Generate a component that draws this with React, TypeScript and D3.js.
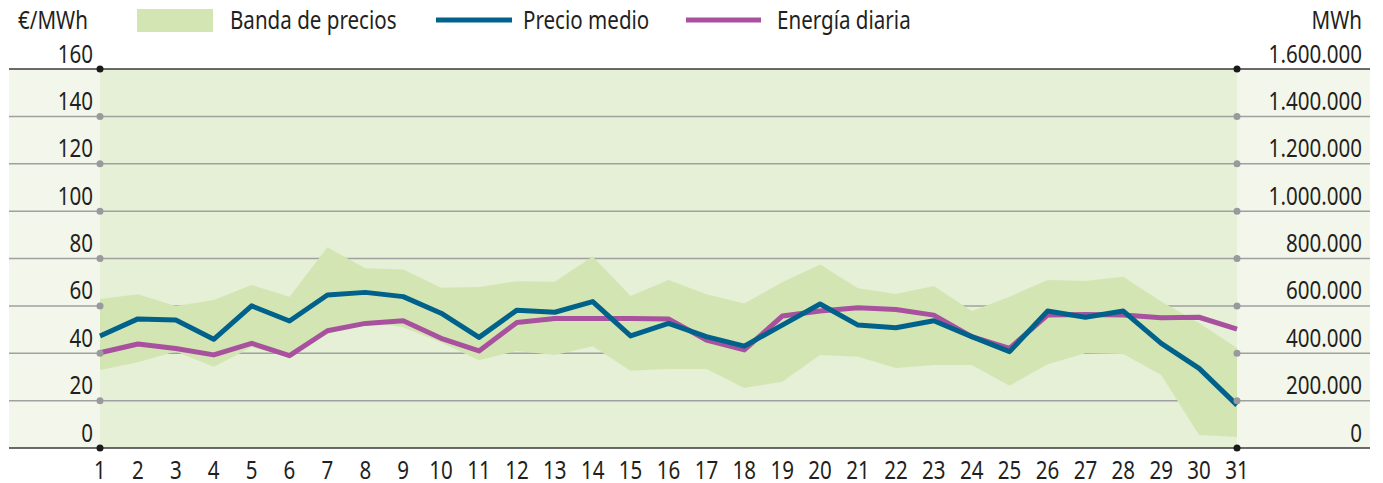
import * as d3 from 'd3';

const width = 1383;
const height = 483;
const margin = { top: 69, right: 146, bottom: 35, left: 100 };

const days = [1, 2, 3, 4, 5, 6, 7, 8, 9, 10, 11, 12, 13, 14, 15, 16, 17, 18, 19, 20, 21, 22, 23, 24, 25, 26, 27, 28, 29, 30, 31];

// €/MWh
const precioMedio = [47.3, 54.5, 54, 45.9, 60, 53.6, 64.6, 65.7, 63.9, 56.9, 46.7, 58.2, 57.3, 61.8, 47.3, 52.6, 47, 43, 51.9, 60.8, 51.9, 50.8, 53.7, 47, 40.7, 57.8, 55.2, 57.8, 44.2, 33.6, 18.1];
const bandaMax = [62.9, 64.9, 60, 62.5, 68.8, 63.9, 84.7, 75.9, 75.4, 67.7, 68, 70.4, 70.2, 80.8, 64.2, 70.9, 64.9, 61, 70, 77.5, 67.4, 65, 68.4, 57.8, 63.9, 70.9, 70.5, 72.3, 61.8, 52.8, 42.2];
const bandaMin = [32.9, 36.2, 40.7, 34.3, 42.5, 38.5, 48, 53.5, 51, 44.5, 37, 41, 39.3, 43, 32.6, 33.3, 33.3, 25.3, 28, 39.3, 38.5, 33.8, 35, 35, 26.3, 35.4, 40, 39.7, 30.8, 5.5, 4.6];

// MWh
const energiaDiaria = [402000, 439000, 420000, 393000, 442000, 390000, 495000, 526000, 537000, 463000, 410000, 530000, 547000, 547000, 547000, 545000, 456000, 414000, 557000, 578000, 592000, 585000, 561000, 470000, 421000, 561000, 564000, 561000, 550000, 552000, 502000];

const priceTicks = [0, 20, 40, 60, 80, 100, 120, 140, 160];
const energyTicks = [0, 200000, 400000, 600000, 800000, 1000000, 1200000, 1400000, 1600000];

const font = "'Noto Sans', sans-serif";
const textColor = '#231f20';
const blue = '#00628b';
const magenta = '#a8519f';
const bandColor = '#d4e5b4';

// condensed text: the original uses a narrow face
function Label({ x, y, anchor = 'start', children }: { x: number; y: number; anchor?: string; children: any }) {
  return (
    <g transform={`translate(${x},${y}) scale(0.84,1)`}>
      <text textAnchor={anchor} fontSize={24.5} fill={textColor}>
        {children}
      </text>
    </g>
  );
}

export default function App() {
  const x = d3
    .scaleLinear()
    .domain([1, 31])
    .range([margin.left, width - margin.right]);
  const yPrice = d3
    .scaleLinear()
    .domain([0, 160])
    .range([height - margin.bottom, margin.top]);
  const yEnergy = d3
    .scaleLinear()
    .domain([0, 1600000])
    .range([height - margin.bottom, margin.top]);

  const band = d3
    .area<number>()
    .x((d) => x(d))
    .y0((d, i) => yPrice(bandaMin[i]))
    .y1((d, i) => yPrice(bandaMax[i]));

  const priceLine = d3
    .line<number>()
    .x((d, i) => x(days[i]))
    .y((d) => yPrice(d));

  const energyLine = d3
    .line<number>()
    .x((d, i) => x(days[i]))
    .y((d) => yEnergy(d));

  const fmtEnergy = (v: number) => d3.format(',')(v).replace(/,/g, '.');

  const x0 = x(1);
  const x1 = x(31);

  return (
    <svg
      width={width}
      height={height}
      style={{ position: 'absolute', left: 0, top: 0, background: '#fff' }}
      fontFamily={font}
    >
      {/* outer and plot backgrounds */}
      <rect x={9} y={yPrice(160)} width={1370 - 9} height={yPrice(0) - yPrice(160)} fill="#f3f7eb" />
      <rect x={x0} y={yPrice(160)} width={x1 - x0} height={yPrice(0) - yPrice(160)} fill="#e5f0d6" />

      {/* gridlines */}
      {priceTicks.map((t) => (
        <line
          key={t}
          x1={9}
          x2={1370}
          y1={yPrice(t)}
          y2={yPrice(t)}
          stroke={t === 0 || t === 160 ? '#3a3a3a' : '#a0a0a0'}
          strokeWidth={1.5}
        />
      ))}

      <path d={band(days) || ''} fill={bandColor} />

      <path d={energyLine(energiaDiaria) || ''} fill="none" stroke={magenta} strokeWidth={5} strokeLinejoin="round" />
      <path d={priceLine(precioMedio) || ''} fill="none" stroke={blue} strokeWidth={5} strokeLinejoin="round" />

      {/* axis dots */}
      {priceTicks.map((t) => (
        <g key={'dot' + t} fill={t === 0 || t === 160 ? '#1a1a1a' : '#999a9e'}>
          <circle cx={x0} cy={yPrice(t)} r={3.5} />
          <circle cx={x1} cy={yPrice(t)} r={3.5} />
        </g>
      ))}

      {/* left axis labels */}
      {priceTicks.map((t) => (
        <Label key={'l' + t} x={93} y={yPrice(t) - 6.5} anchor="end">
          {t}
        </Label>
      ))}

      {/* right axis labels */}
      {energyTicks.map((t) => (
        <Label key={'r' + t} x={1362} y={yEnergy(t) - 6.5} anchor="end">
          {fmtEnergy(t)}
        </Label>
      ))}

      {/* x labels */}
      {days.map((d) => (
        <Label key={'x' + d} x={x(d)} y={479} anchor="middle">
          {d}
        </Label>
      ))}

      {/* units and legend */}
      <Label x={18} y={29}>€/MWh</Label>
      <Label x={1362} y={29} anchor="end">MWh</Label>

      <rect x={137} y={9} width={76} height={23} fill={bandColor} />
      <Label x={230} y={29}>Banda de precios</Label>

      <line x1={436} x2={512} y1={20} y2={20} stroke={blue} strokeWidth={5} />
      <Label x={523} y={29}>Precio medio</Label>

      <line x1={686} x2={761} y1={20} y2={20} stroke={magenta} strokeWidth={5} />
      <Label x={777} y={29}>Energía diaria</Label>
    </svg>
  );
}
